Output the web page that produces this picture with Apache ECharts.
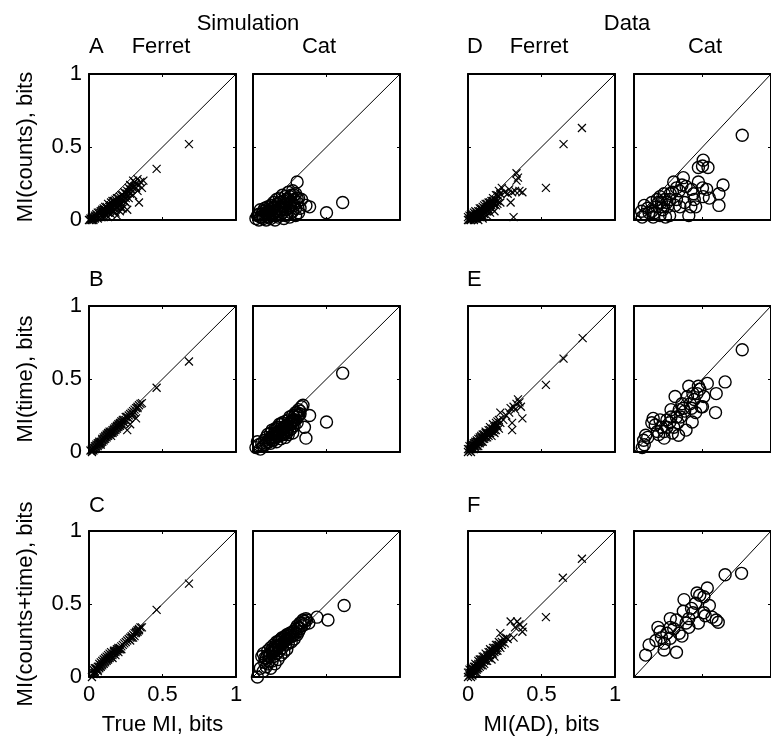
<!DOCTYPE html>
<html>
<head>
<meta charset="utf-8">
<script src="https://cdn.jsdelivr.net/npm/echarts/dist/echarts.min.js"></script>
<style>
  html, body { margin: 0; padding: 0; background: #fff; }
  #chart { width: 771px; height: 737px; }
</style>
</head>
<body>
<div id="chart"></div>
<script>
// row 1: MI(counts) vs true MI / MI(AD)
var simFerretCounts = [[0.00,0.00],[0.01,0.00],[0.01,0.01],[0.02,0.01],[0.02,0.02],[0.03,0.00],[0.03,0.02],[0.04,0.01],[0.04,0.03],[0.05,0.02],[0.05,0.04],[0.06,0.01],[0.06,0.03],[0.07,0.02],[0.07,0.05],[0.08,0.03],[0.08,0.06],[0.09,0.04],[0.09,0.07],[0.10,0.02],[0.10,0.05],[0.10,0.08],[0.11,0.04],[0.11,0.07],[0.12,0.03],[0.12,0.06],[0.12,0.09],[0.13,0.05],[0.13,0.08],[0.13,0.11],[0.14,0.07],[0.14,0.10],[0.15,0.04],[0.15,0.09],[0.15,0.12],[0.16,0.06],[0.16,0.11],[0.17,0.08],[0.17,0.13],[0.18,0.05],[0.18,0.10],[0.18,0.14],[0.19,0.03],[0.19,0.12],[0.20,0.09],[0.20,0.15],[0.21,0.06],[0.21,0.13],[0.22,0.11],[0.22,0.17],[0.23,0.14],[0.23,0.08],[0.24,0.16],[0.24,0.19],[0.25,0.12],[0.25,0.18],[0.26,0.07],[0.26,0.20],[0.27,0.15],[0.27,0.22],[0.28,0.18],[0.28,0.24],[0.29,0.21],[0.30,0.27],[0.30,0.17],[0.31,0.23],[0.32,0.25],[0.33,0.20],[0.33,0.28],[0.34,0.12],[0.34,0.24],[0.35,0.26],[0.36,0.22],[0.37,0.27],[0.46,0.35],[0.68,0.52],
	[0.02,0.00],[0.03,0.01],[0.04,0.02],[0.05,0.03],[0.06,0.05],[0.07,0.04],[0.08,0.05],[0.09,0.06],[0.10,0.07],[0.11,0.05],[0.11,0.09],[0.12,0.08],[0.13,0.06],[0.14,0.09],[0.14,0.05],[0.15,0.10],[0.16,0.09],[0.16,0.13],[0.17,0.10],[0.18,0.12],[0.19,0.09],[0.19,0.15],[0.20,0.12],[0.21,0.10],[0.21,0.16],[0.22,0.14],[0.23,0.17],[0.24,0.13],[0.25,0.15],[0.26,0.18],[0.27,0.19],[0.28,0.21],[0.29,0.23],[0.30,0.22],[0.31,0.26],[0.32,0.22],[0.09,0.02],[0.13,0.02],[0.17,0.06],[0.22,0.08]];
var simCatCounts = [[0.02,0.01],[0.03,0.03],[0.04,0.00],[0.05,0.07],[0.05,0.02],[0.06,0.04],[0.07,0.01],[0.07,0.06],[0.08,0.03],[0.08,0.08],[0.09,0.05],[0.09,0.00],[0.10,0.02],[0.10,0.09],[0.11,0.06],[0.11,0.04],[0.12,0.01],[0.12,0.10],[0.13,0.07],[0.13,0.03],[0.14,0.12],[0.14,0.05],[0.15,0.09],[0.15,0.00],[0.16,0.14],[0.16,0.06],[0.17,0.11],[0.17,0.02],[0.18,0.15],[0.18,0.08],[0.19,0.12],[0.19,0.04],[0.20,0.17],[0.20,0.10],[0.21,0.01],[0.21,0.13],[0.22,0.07],[0.22,0.16],[0.23,0.11],[0.23,0.04],[0.24,0.19],[0.24,0.14],[0.25,0.09],[0.25,0.02],[0.26,0.17],[0.26,0.12],[0.27,0.06],[0.27,0.20],[0.28,0.14],[0.28,0.10],[0.29,0.03],[0.29,0.18],[0.30,0.26],[0.30,0.12],[0.31,0.15],[0.32,0.08],[0.33,0.14],[0.36,0.10],[0.385,0.09],[0.50,0.05],[0.61,0.12],
	[0.04,0.04],[0.06,0.02],[0.09,0.07],[0.11,0.02],[0.13,0.10],[0.15,0.06],[0.16,0.03],[0.17,0.09],[0.18,0.12],[0.19,0.07],[0.20,0.05],[0.21,0.09],[0.22,0.03],[0.23,0.14],[0.24,0.08],[0.25,0.16],[0.26,0.05],[0.27,0.11],[0.28,0.17],[0.29,0.08],[0.30,0.15],[0.31,0.05],[0.14,0.09],[0.12,0.05],[0.10,0.06]];
var dataFerretCounts = [[0.00,0.00],[0.00,0.02],[0.01,0.01],[0.01,0.03],[0.02,0.00],[0.02,0.02],[0.02,0.04],[0.03,0.01],[0.03,0.03],[0.04,0.00],[0.04,0.02],[0.04,0.05],[0.05,0.01],[0.05,0.03],[0.05,0.06],[0.06,0.02],[0.06,0.04],[0.07,0.00],[0.07,0.03],[0.07,0.06],[0.08,0.02],[0.08,0.05],[0.08,0.08],[0.09,0.03],[0.09,0.07],[0.10,0.01],[0.10,0.05],[0.10,0.09],[0.11,0.04],[0.11,0.08],[0.12,0.06],[0.12,0.11],[0.13,0.03],[0.13,0.09],[0.14,0.07],[0.14,0.12],[0.15,0.05],[0.15,0.10],[0.16,0.13],[0.16,0.08],[0.17,0.11],[0.17,0.15],[0.18,0.06],[0.18,0.14],[0.19,0.10],[0.19,0.17],[0.20,0.13],[0.21,0.16],[0.21,0.20],[0.22,0.12],[0.22,0.18],[0.23,0.22],[0.25,0.19],[0.27,0.18],[0.28,0.21],[0.29,0.12],[0.30,0.19],[0.31,0.02],[0.32,0.20],[0.33,0.32],[0.33,0.27],[0.34,0.29],[0.35,0.20],[0.37,0.19],[0.53,0.22],[0.65,0.52],[0.775,0.63],
	[0.01,0.00],[0.02,0.01],[0.03,0.02],[0.03,0.04],[0.04,0.01],[0.04,0.03],[0.05,0.02],[0.05,0.04],[0.06,0.01],[0.06,0.03],[0.06,0.05],[0.07,0.02],[0.07,0.04],[0.08,0.03],[0.08,0.06],[0.09,0.05],[0.09,0.08],[0.10,0.03],[0.10,0.07],[0.11,0.06],[0.11,0.10],[0.12,0.08],[0.13,0.06],[0.13,0.11],[0.14,0.09],[0.15,0.12],[0.16,0.10],[0.17,0.13],[0.18,0.11],[0.19,0.14],[0.20,0.17],[0.20,0.11]];
var dataCatCounts = [[0.79,0.58],[0.505,0.41],[0.54,0.36],[0.47,0.36],[0.65,0.24],[0.62,0.18],[0.62,0.10],[0.53,0.21],[0.47,0.26],[0.505,0.16],[0.435,0.18],[0.36,0.29],[0.38,0.23],[0.31,0.22],[0.415,0.09],[0.40,0.03],[0.31,0.14],[0.265,0.18],[0.245,0.09],[0.225,0.14],[0.19,0.16],[0.21,0.07],[0.23,0.02],[0.165,0.09],[0.13,0.12],[0.11,0.05],[0.075,0.10],[0.055,0.06],[0.06,0.02],[0.37,0.12],[0.35,0.24],[0.29,0.26],[0.45,0.09],[0.55,0.15],[0.26,0.14],[0.18,0.12],[0.335,0.09],[0.50,0.22],[0.13,0.06],[0.20,0.12],
	[0.10,0.08],[0.15,0.05],[0.17,0.14],[0.20,0.09],[0.22,0.18],[0.24,0.12],[0.28,0.19],[0.30,0.10],[0.33,0.20],[0.08,0.04],[0.14,0.02],[0.19,0.03],[0.26,0.03],[0.42,0.21],[0.44,0.14],[0.50,0.37]];

// row 2: MI(time)
var simFerretTime = [[0.01,0.01],[0.02,0.02],[0.02,0.00],[0.03,0.03],[0.03,0.01],[0.04,0.04],[0.04,0.02],[0.05,0.05],[0.05,0.03],[0.06,0.06],[0.06,0.04],[0.07,0.07],[0.07,0.05],[0.08,0.07],[0.08,0.05],[0.09,0.09],[0.09,0.07],[0.10,0.08],[0.10,0.10],[0.11,0.09],[0.11,0.11],[0.12,0.10],[0.12,0.12],[0.13,0.11],[0.13,0.13],[0.14,0.12],[0.14,0.14],[0.15,0.13],[0.15,0.11],[0.16,0.15],[0.16,0.13],[0.17,0.16],[0.17,0.14],[0.18,0.17],[0.18,0.15],[0.19,0.18],[0.19,0.16],[0.20,0.19],[0.20,0.17],[0.21,0.20],[0.21,0.18],[0.22,0.21],[0.22,0.19],[0.23,0.22],[0.24,0.22],[0.24,0.20],[0.25,0.24],[0.26,0.15],[0.26,0.24],[0.27,0.25],[0.28,0.19],[0.28,0.26],[0.29,0.27],[0.30,0.28],[0.31,0.29],[0.32,0.23],[0.32,0.30],[0.33,0.31],[0.34,0.32],[0.35,0.33],[0.36,0.335],[0.46,0.44],[0.68,0.62],
	[0.02,0.01],[0.03,0.02],[0.04,0.03],[0.05,0.04],[0.06,0.05],[0.07,0.06],[0.08,0.06],[0.09,0.08],[0.10,0.09],[0.11,0.10],[0.12,0.11],[0.13,0.12],[0.14,0.13],[0.15,0.14],[0.16,0.14],[0.17,0.15],[0.18,0.16],[0.19,0.17],[0.20,0.18],[0.21,0.19],[0.22,0.20],[0.23,0.21],[0.25,0.22],[0.27,0.23],[0.29,0.25],[0.30,0.26],[0.31,0.27],[0.33,0.30]];
var simCatTime = [[0.02,0.03],[0.03,0.07],[0.04,0.05],[0.05,0.02],[0.06,0.06],[0.07,0.04],[0.08,0.08],[0.08,0.05],[0.09,0.10],[0.10,0.07],[0.10,0.12],[0.11,0.09],[0.12,0.06],[0.12,0.13],[0.13,0.10],[0.13,0.15],[0.14,0.08],[0.14,0.12],[0.15,0.16],[0.15,0.10],[0.16,0.13],[0.16,0.07],[0.17,0.17],[0.17,0.11],[0.18,0.14],[0.18,0.19],[0.19,0.09],[0.19,0.16],[0.20,0.20],[0.20,0.12],[0.21,0.17],[0.21,0.14],[0.22,0.21],[0.22,0.10],[0.23,0.18],[0.23,0.15],[0.24,0.22],[0.24,0.12],[0.25,0.19],[0.25,0.24],[0.26,0.16],[0.26,0.21],[0.27,0.25],[0.27,0.13],[0.28,0.22],[0.28,0.18],[0.29,0.27],[0.30,0.24],[0.30,0.20],[0.31,0.29],[0.32,0.26],[0.33,0.31],[0.34,0.32],[0.35,0.17],[0.36,0.095],[0.385,0.25],[0.50,0.205],[0.61,0.54],
	[0.09,0.06],[0.11,0.07],[0.12,0.09],[0.13,0.08],[0.14,0.10],[0.15,0.13],[0.16,0.11],[0.17,0.13],[0.18,0.11],[0.19,0.13],[0.20,0.15],[0.21,0.12],[0.22,0.17],[0.23,0.13],[0.24,0.17],[0.25,0.15],[0.26,0.19],[0.27,0.21],[0.28,0.24],[0.29,0.22],[0.30,0.27],[0.31,0.25],[0.32,0.28],[0.16,0.16],[0.19,0.19]];
var dataFerretTime = [[0.00,0.00],[0.00,0.02],[0.01,0.01],[0.01,0.04],[0.02,0.02],[0.02,0.00],[0.03,0.03],[0.03,0.05],[0.04,0.02],[0.04,0.04],[0.05,0.06],[0.05,0.03],[0.06,0.05],[0.06,0.08],[0.07,0.04],[0.07,0.07],[0.08,0.09],[0.08,0.06],[0.09,0.08],[0.09,0.11],[0.10,0.07],[0.10,0.10],[0.11,0.12],[0.11,0.09],[0.12,0.11],[0.12,0.14],[0.13,0.10],[0.13,0.13],[0.14,0.15],[0.14,0.11],[0.15,0.13],[0.15,0.17],[0.16,0.14],[0.16,0.11],[0.17,0.16],[0.17,0.19],[0.18,0.13],[0.18,0.17],[0.19,0.20],[0.19,0.15],[0.20,0.18],[0.21,0.22],[0.21,0.16],[0.22,0.27],[0.22,0.20],[0.24,0.22],[0.26,0.25],[0.28,0.27],[0.29,0.30],[0.30,0.15],[0.30,0.20],[0.31,0.31],[0.32,0.29],[0.33,0.33],[0.34,0.36],[0.35,0.34],[0.36,0.31],[0.37,0.23],[0.53,0.46],[0.65,0.64],[0.78,0.78],
	[0.01,0.02],[0.02,0.03],[0.02,0.05],[0.03,0.02],[0.03,0.04],[0.04,0.05],[0.04,0.06],[0.05,0.04],[0.05,0.07],[0.06,0.04],[0.06,0.07],[0.07,0.06],[0.07,0.09],[0.08,0.07],[0.08,0.10],[0.09,0.07],[0.09,0.10],[0.10,0.09],[0.10,0.12],[0.11,0.10],[0.12,0.10],[0.12,0.13],[0.13,0.12],[0.14,0.13],[0.15,0.15],[0.16,0.16],[0.17,0.14],[0.18,0.15],[0.19,0.18],[0.20,0.21]];
var dataCatTime = [[0.79,0.70],[0.665,0.48],[0.60,0.40],[0.535,0.47],[0.47,0.45],[0.595,0.27],[0.50,0.31],[0.45,0.27],[0.39,0.38],[0.30,0.38],[0.41,0.33],[0.31,0.24],[0.24,0.22],[0.20,0.17],[0.155,0.185],[0.22,0.095],[0.325,0.115],[0.38,0.15],[0.085,0.115],[0.075,0.05],[0.06,0.03],[0.27,0.29],[0.33,0.29],[0.40,0.45],[0.43,0.40],[0.51,0.38],[0.24,0.17],[0.425,0.205],[0.13,0.20],[0.17,0.14],[0.27,0.24],[0.35,0.33],[0.36,0.30],[0.28,0.13],[0.19,0.22],[0.14,0.23],[0.32,0.20],[0.44,0.36],[0.49,0.31],
	[0.07,0.08],[0.10,0.10],[0.18,0.12],[0.22,0.14],[0.26,0.20],[0.29,0.17],[0.34,0.24],[0.37,0.28],[0.42,0.30],[0.46,0.40],[0.48,0.43]];

// row 3: MI(counts+time)
var simFerretBoth = [[0.02,0.00],[0.03,0.02],[0.03,0.05],[0.04,0.03],[0.05,0.06],[0.05,0.02],[0.06,0.04],[0.06,0.07],[0.07,0.06],[0.07,0.09],[0.08,0.07],[0.08,0.10],[0.09,0.08],[0.09,0.11],[0.10,0.09],[0.10,0.12],[0.11,0.10],[0.11,0.13],[0.12,0.11],[0.12,0.14],[0.13,0.12],[0.13,0.15],[0.14,0.13],[0.14,0.16],[0.15,0.14],[0.15,0.17],[0.16,0.15],[0.16,0.13],[0.17,0.16],[0.17,0.18],[0.18,0.17],[0.18,0.15],[0.19,0.18],[0.20,0.19],[0.20,0.17],[0.21,0.20],[0.22,0.21],[0.22,0.19],[0.23,0.22],[0.24,0.23],[0.25,0.24],[0.26,0.25],[0.27,0.26],[0.28,0.27],[0.28,0.25],[0.29,0.28],[0.30,0.29],[0.30,0.27],[0.31,0.30],[0.32,0.31],[0.33,0.32],[0.34,0.33],[0.35,0.34],[0.36,0.34],[0.46,0.46],[0.68,0.64],
	[0.03,0.03],[0.04,0.04],[0.04,0.06],[0.05,0.05],[0.06,0.05],[0.07,0.07],[0.08,0.08],[0.09,0.09],[0.10,0.10],[0.11,0.11],[0.12,0.12],[0.13,0.13],[0.14,0.14],[0.15,0.15],[0.16,0.16],[0.17,0.17],[0.18,0.18],[0.19,0.19],[0.20,0.20],[0.21,0.19],[0.29,0.27],[0.31,0.28],[0.32,0.30],[0.33,0.31],[0.34,0.32]];
var simCatBoth = [[0.03,0.00],[0.05,0.06],[0.06,0.14],[0.07,0.16],[0.07,0.04],[0.08,0.10],[0.09,0.13],[0.10,0.09],[0.10,0.18],[0.11,0.14],[0.12,0.06],[0.12,0.20],[0.13,0.11],[0.13,0.17],[0.14,0.22],[0.14,0.14],[0.15,0.19],[0.15,0.09],[0.16,0.24],[0.16,0.16],[0.17,0.21],[0.17,0.12],[0.18,0.25],[0.18,0.18],[0.19,0.22],[0.19,0.15],[0.20,0.27],[0.20,0.20],[0.21,0.24],[0.21,0.17],[0.22,0.28],[0.22,0.22],[0.23,0.26],[0.23,0.19],[0.24,0.29],[0.24,0.23],[0.25,0.27],[0.26,0.30],[0.26,0.24],[0.27,0.28],[0.28,0.31],[0.28,0.26],[0.29,0.33],[0.30,0.29],[0.30,0.35],[0.31,0.31],[0.32,0.37],[0.32,0.33],[0.33,0.35],[0.34,0.39],[0.35,0.36],[0.36,0.40],[0.365,0.39],[0.38,0.37],[0.435,0.41],[0.51,0.39],[0.62,0.49],
	[0.08,0.13],[0.09,0.07],[0.10,0.15],[0.11,0.11],[0.12,0.16],[0.13,0.19],[0.14,0.18],[0.15,0.21],[0.16,0.19],[0.17,0.24],[0.18,0.21],[0.19,0.26],[0.20,0.23],[0.21,0.27],[0.22,0.25],[0.23,0.29],[0.25,0.30],[0.27,0.31],[0.29,0.30],[0.31,0.34],[0.33,0.37],[0.35,0.38]];
var dataFerretBoth = [[0.00,0.00],[0.00,0.03],[0.01,0.01],[0.01,0.05],[0.02,0.02],[0.02,0.06],[0.03,0.04],[0.03,0.01],[0.04,0.07],[0.04,0.03],[0.05,0.05],[0.05,0.09],[0.06,0.06],[0.06,0.03],[0.07,0.08],[0.07,0.11],[0.08,0.07],[0.08,0.10],[0.09,0.12],[0.09,0.08],[0.10,0.10],[0.10,0.14],[0.11,0.12],[0.11,0.09],[0.12,0.13],[0.12,0.16],[0.13,0.11],[0.13,0.15],[0.14,0.17],[0.14,0.13],[0.15,0.15],[0.15,0.19],[0.16,0.16],[0.16,0.12],[0.17,0.18],[0.17,0.20],[0.18,0.17],[0.18,0.14],[0.19,0.20],[0.19,0.22],[0.20,0.18],[0.20,0.22],[0.21,0.21],[0.21,0.24],[0.22,0.30],[0.22,0.20],[0.23,0.24],[0.24,0.26],[0.25,0.23],[0.26,0.27],[0.27,0.26],[0.29,0.38],[0.31,0.27],[0.32,0.34],[0.335,0.38],[0.35,0.36],[0.37,0.31],[0.375,0.34],[0.53,0.41],[0.645,0.68],[0.775,0.81],
	[0.01,0.03],[0.02,0.04],[0.02,0.00],[0.03,0.06],[0.03,0.02],[0.04,0.05],[0.05,0.07],[0.05,0.03],[0.06,0.08],[0.06,0.05],[0.07,0.06],[0.07,0.09],[0.08,0.09],[0.08,0.12],[0.09,0.10],[0.10,0.12],[0.10,0.08],[0.11,0.14],[0.11,0.11],[0.12,0.11],[0.13,0.14],[0.14,0.15],[0.15,0.17],[0.16,0.18],[0.17,0.16],[0.18,0.20],[0.19,0.18],[0.20,0.20],[0.21,0.22],[0.23,0.22]];
var dataCatBoth = [[0.785,0.71],[0.665,0.70],[0.535,0.61],[0.48,0.56],[0.365,0.53],[0.45,0.505],[0.60,0.39],[0.51,0.44],[0.43,0.44],[0.47,0.37],[0.40,0.34],[0.31,0.39],[0.265,0.34],[0.175,0.34],[0.20,0.27],[0.265,0.265],[0.33,0.30],[0.38,0.37],[0.16,0.25],[0.22,0.185],[0.31,0.17],[0.085,0.15],[0.22,0.23],[0.51,0.55],[0.46,0.575],[0.615,0.375],[0.57,0.41],[0.265,0.40],
	[0.11,0.22],[0.19,0.31],[0.24,0.30],[0.29,0.33],[0.36,0.45],[0.40,0.40],[0.42,0.47],[0.52,0.42],[0.55,0.49],[0.35,0.28]];

var diagonal = [[0, 0], [1, 1]];
var axisTicks = { min: 0, max: 1, interval: 0.5 };

var rowData = [
	[simFerretCounts, simCatCounts, dataFerretCounts, dataCatCounts],
	[simFerretTime, simCatTime, dataFerretTime, dataCatTime],
	[simFerretBoth, simCatBoth, dataFerretBoth, dataCatBoth]
];
var yNames = ['MI(counts), bits', 'MI(time), bits', 'MI(counts+time), bits'];
var xNames = ['True MI, bits', '', 'MI(AD), bits', ''];

var colLeft = [89, 253, 468, 634];
var rowTop = [74, 306, 531];
var boxW = 147, boxH = 146;
var font = 'Liberation Sans, Arial, sans-serif';
var crossPath = 'path://M0,0L10,10M10,0L0,10';

var chart = echarts.init(document.getElementById('chart'));

var grids = [], xAxes = [], yAxes = [], series = [];

function baseAxis(gi, pos, showLabel) {
	return {
		type: 'value',
		gridIndex: gi,
		position: pos,
		min: axisTicks.min,
		max: axisTicks.max,
		interval: axisTicks.interval,
		splitLine: { show: false },
		axisLine: { show: true, onZero: false, lineStyle: { color: '#000', width: 2 } },
		axisTick: { show: true, inside: true, length: 3, lineStyle: { color: '#000', width: 1 } },
		axisLabel: {
			show: showLabel,
			color: '#000',
			fontSize: 22,
			fontFamily: font,
			margin: 7
		}
	};
}

for (var r = 0; r < 3; r++) {
	for (var c = 0; c < 4; c++) {
		var gi = grids.length;
		grids.push({ left: colLeft[c], top: rowTop[r], width: boxW, height: boxH });

		// bottom + top x axes
		var xb = baseAxis(gi, 'bottom', r == 2 && (c == 0 || c == 2));
		if (r == 2 && xNames[c]) {
			xb.name = xNames[c];
			xb.nameLocation = 'middle';
			xb.nameGap = 37;
			xb.nameTextStyle = { color: '#000', fontSize: 22, fontFamily: font };
		}
		xAxes.push(xb);
		xAxes.push(baseAxis(gi, 'top', false));

		// left + right y axes
		var yl = baseAxis(gi, 'left', c == 0);
		if (c == 0) {
			yl.name = yNames[r];
			yl.nameLocation = 'middle';
			yl.nameGap = 52;
			yl.nameTextStyle = { color: '#000', fontSize: 22, fontFamily: font };
		}
		yAxes.push(yl);
		yAxes.push(baseAxis(gi, 'right', false));

		var isCat = (c % 2 == 1);
		series.push({
			type: 'line',
			xAxisIndex: gi * 2,
			yAxisIndex: gi * 2,
			data: diagonal,
			symbol: 'none',
			silent: true,
			lineStyle: { color: '#000', width: 1 },
			z: 1
		});
		series.push({
			type: 'scatter',
			xAxisIndex: gi * 2,
			yAxisIndex: gi * 2,
			data: rowData[r][c],
			symbol: isCat ? 'circle' : crossPath,
			symbolSize: isCat ? 12 : 8,
			clip: false,
			silent: true,
			itemStyle: {
				color: 'rgba(0,0,0,0)',
				borderColor: '#000',
				borderWidth: isCat ? 1.4 : 1.2,
				opacity: 1
			},
			z: 2
		});
	}
}

function label(text, x, y, align) {
	return {
		type: 'text',
		x: x,
		y: y,
		style: {
			text: text,
			fill: '#000',
			font: '22px ' + font,
			textAlign: align || 'center',
			textVerticalAlign: 'middle'
		}
	};
}

var option = {
	animation: false,
	backgroundColor: '#fff',
	grid: grids,
	xAxis: xAxes,
	yAxis: yAxes,
	series: series,
	graphic: [
		label('Simulation', 248, 24),
		label('Data', 627, 24),
		label('A', 89, 47, 'left'),
		label('Ferret', 161, 47),
		label('Cat', 319, 47),
		label('D', 467, 47, 'left'),
		label('Ferret', 539, 47),
		label('Cat', 705, 47),
		label('B', 89, 280, 'left'),
		label('E', 467, 280, 'left'),
		label('C', 89, 506, 'left'),
		label('F', 467, 506, 'left')
	]
};

chart.setOption(option);
</script>
</body>
</html>
